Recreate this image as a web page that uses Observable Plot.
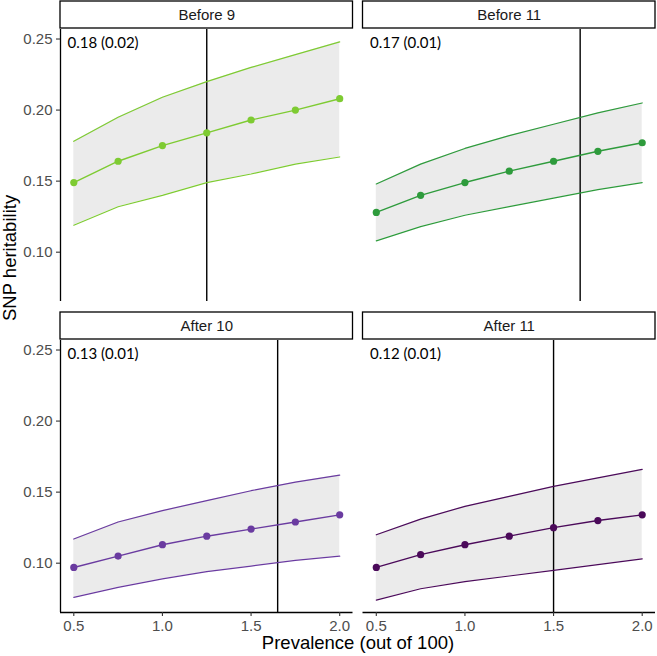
<!DOCTYPE html>
<html>
<head>
<meta charset="utf-8">
<script src="https://cdn.jsdelivr.net/npm/d3@7"></script>
<script src="https://cdn.jsdelivr.net/npm/@observablehq/plot@0.6"></script>
<style>
  html, body { margin: 0; padding: 0; background: #fff; }
  #chart svg { display: block; }
</style>
</head>
<body>
<div id="chart"></div>
<script>
// ---- data ----
const prevalence = [0.5, 0.75, 1.0, 1.25, 1.5, 1.75, 2.0];
const panels = ["Before 9", "Before 11", "After 10", "After 11"];
const panelCol = ["L", "R", "L", "R"];
const panelRow = ["T", "T", "B", "B"];
const panelColors = ["#7ECB32", "#2E9B3C", "#6A3BA0", "#4B0A5A"];
const estimateLabels = ["0.18 (0.02)", "0.17 (0.01)", "0.13 (0.01)", "0.12 (0.01)"];
const cutoffs = [1.25, 1.65, 1.65, 1.5];

const estBefore9 = [0.149, 0.164, 0.175, 0.184, 0.193, 0.200, 0.208];
const lowBefore9 = [0.119, 0.132, 0.140, 0.149, 0.155, 0.162, 0.167];
const highBefore9 = [0.178, 0.195, 0.209, 0.220, 0.230, 0.239, 0.248];

const estBefore11 = [0.128, 0.140, 0.149, 0.157, 0.164, 0.171, 0.177];
const lowBefore11 = [0.108, 0.118, 0.126, 0.132, 0.138, 0.144, 0.149];
const highBefore11 = [0.148, 0.162, 0.173, 0.182, 0.190, 0.198, 0.205];

const estAfter10 = [0.097, 0.105, 0.113, 0.119, 0.124, 0.129, 0.134];
const lowAfter10 = [0.076, 0.083, 0.089, 0.094, 0.098, 0.102, 0.105];
const highAfter10 = [0.117, 0.129, 0.137, 0.144, 0.151, 0.157, 0.162];

const estAfter11 = [0.097, 0.106, 0.113, 0.119, 0.125, 0.130, 0.134];
const lowAfter11 = [0.074, 0.082, 0.087, 0.091, 0.095, 0.099, 0.103];
const highAfter11 = [0.120, 0.131, 0.140, 0.147, 0.154, 0.160, 0.166];

const yTicks = [0.10, 0.15, 0.20, 0.25];
const xTicks = [0.5, 1.0, 1.5, 2.0];
const xTitle = "Prevalence (out of 100)";
const yTitle = "SNP heritability";

// ---- build tables ----
const series = [
  [estBefore9, lowBefore9, highBefore9],
  [estBefore11, lowBefore11, highBefore11],
  [estAfter10, lowAfter10, highAfter10],
  [estAfter11, lowAfter11, highAfter11]
];
const rows = [];
panels.forEach((p, i) => {
  const [est, lo, hi] = series[i];
  prevalence.forEach((x, j) => {
    rows.push({panel: p, col: panelCol[i], row: panelRow[i], x, est: est[j], lo: lo[j], hi: hi[j]});
  });
});
const facetInfo = panels.map((p, i) => ({
  panel: p, col: panelCol[i], row: panelRow[i], cutoff: cutoffs[i], label: estimateLabels[i]
}));
const leftFacets = facetInfo.filter(d => d.col === "L");
const bottomFacets = facetInfo.filter(d => d.row === "B");
const yTickRows = leftFacets.flatMap(f => yTicks.map(v => ({col: f.col, row: f.row, v})));
const xTickRows = bottomFacets.flatMap(f => xTicks.map(v => ({col: f.col, row: f.row, v})));
const fmtY = d3.format(".2f"), fmtX = d3.format(".1f");

// scale extents (ggplot-like 5% expansion)
const xMin = 0.425, xMax = 2.075;
const yMin = 0.0653, yMax = 0.2567;
const xMid = (xMin + xMax) / 2;

const W = 657, H = 656;
const mL = 60, mR = 2, mT = 29, mB = 44;
const sans = "'Liberation Sans', Arial, Helvetica, sans-serif";
const tickGrey = "#333333", labelGrey = "#4D4D4D";

const chart = Plot.plot({
  width: W,
  height: H,
  marginLeft: mL,
  marginRight: mR,
  marginTop: mT,
  marginBottom: mB,
  style: {fontFamily: sans, background: "#fff", overflow: "visible"},
  fx: {domain: ["L", "R"], paddingInner: 10 / 302.5, paddingOuter: 0, axis: null, round: false, label: null},
  fy: {domain: ["T", "B"], paddingInner: 39 / 311, paddingOuter: 0, axis: null, round: false, label: null},
  x: {domain: [xMin, xMax], axis: null},
  y: {domain: [yMin, yMax], axis: null},
  color: {domain: panels, range: panelColors},
  marks: [
    // ribbon
    Plot.areaY(rows, {fx: "col", fy: "row", x: "x", y1: "lo", y2: "hi", z: "panel", fill: "#EBEBEB"}),
    // cutoff
    Plot.ruleX(facetInfo, {fx: "col", fy: "row", x: "cutoff", stroke: "#000", strokeWidth: 1.4}),
    // bounds
    Plot.line(rows, {fx: "col", fy: "row", x: "x", y: "lo", z: "panel", stroke: "panel", strokeWidth: 1.2}),
    Plot.line(rows, {fx: "col", fy: "row", x: "x", y: "hi", z: "panel", stroke: "panel", strokeWidth: 1.2}),
    // estimate
    Plot.line(rows, {fx: "col", fy: "row", x: "x", y: "est", z: "panel", stroke: "panel", strokeWidth: 1.4}),
    Plot.dot(rows, {fx: "col", fy: "row", x: "x", y: "est", fill: "panel", r: 3.6}),
    // annotation
    Plot.text(facetInfo, {fx: "col", fy: "row", text: "label", frameAnchor: "top-left", dx: 7, dy: 14,
      textAnchor: "start", lineAnchor: "middle", fontSize: 15, fill: "#000", fontFamily: "Lato, 'Open Sans', sans-serif"}),
    // strips
    Plot.rect(facetInfo, {fx: "col", fy: "row", x1: xMin, x2: xMax, y1: yMax, y2: yMax,
      insetTop: -28, insetBottom: 1, fill: "#fff", stroke: "#000", strokeWidth: 1.3}),
    Plot.text(facetInfo, {fx: "col", fy: "row", x: xMid, y: yMax, dy: -14, text: "panel",
      fontSize: 15, fill: "#1A1A1A", lineAnchor: "middle", fontFamily: sans}),
    // axis lines
    Plot.ruleX(leftFacets, {fx: "col", fy: "row", x: xMin, stroke: "#000", strokeWidth: 1.3}),
    Plot.ruleY(bottomFacets, {fx: "col", fy: "row", y: yMin, stroke: "#000", strokeWidth: 1.3}),
    // y axis ticks + labels
    Plot.ruleY(yTickRows, {fx: "col", fy: "row", y: "v", x1: xMin, x2: xMin, insetLeft: -4,
      stroke: tickGrey, strokeWidth: 1.1}),
    Plot.text(yTickRows, {fx: "col", fy: "row", x: xMin, y: "v", dx: -8, textAnchor: "end",
      lineAnchor: "middle", text: d => fmtY(d.v), fontSize: 15, fill: labelGrey, fontFamily: sans}),
    // x axis ticks + labels
    Plot.ruleX(xTickRows, {fx: "col", fy: "row", x: "v", y1: yMin, y2: yMin, insetBottom: -4,
      stroke: tickGrey, strokeWidth: 1.1}),
    Plot.text(xTickRows, {fx: "col", fy: "row", x: "v", y: yMin, dy: 14, lineAnchor: "middle",
      text: d => fmtX(d.v), fontSize: 15, fill: labelGrey, fontFamily: sans}),
    // axis titles
    Plot.text([yTitle], {facet: "super", frameAnchor: "left", dx: -50, rotate: -90, fontSize: 18.5,
      fill: "#000", fontFamily: sans, text: d => d}),
    Plot.text([xTitle], {facet: "super", frameAnchor: "bottom", dy: 36, fontSize: 18.5,
      fill: "#000", fontFamily: sans, text: d => d})
  ]
});
document.getElementById("chart").appendChild(chart);
</script>
</body>
</html>
